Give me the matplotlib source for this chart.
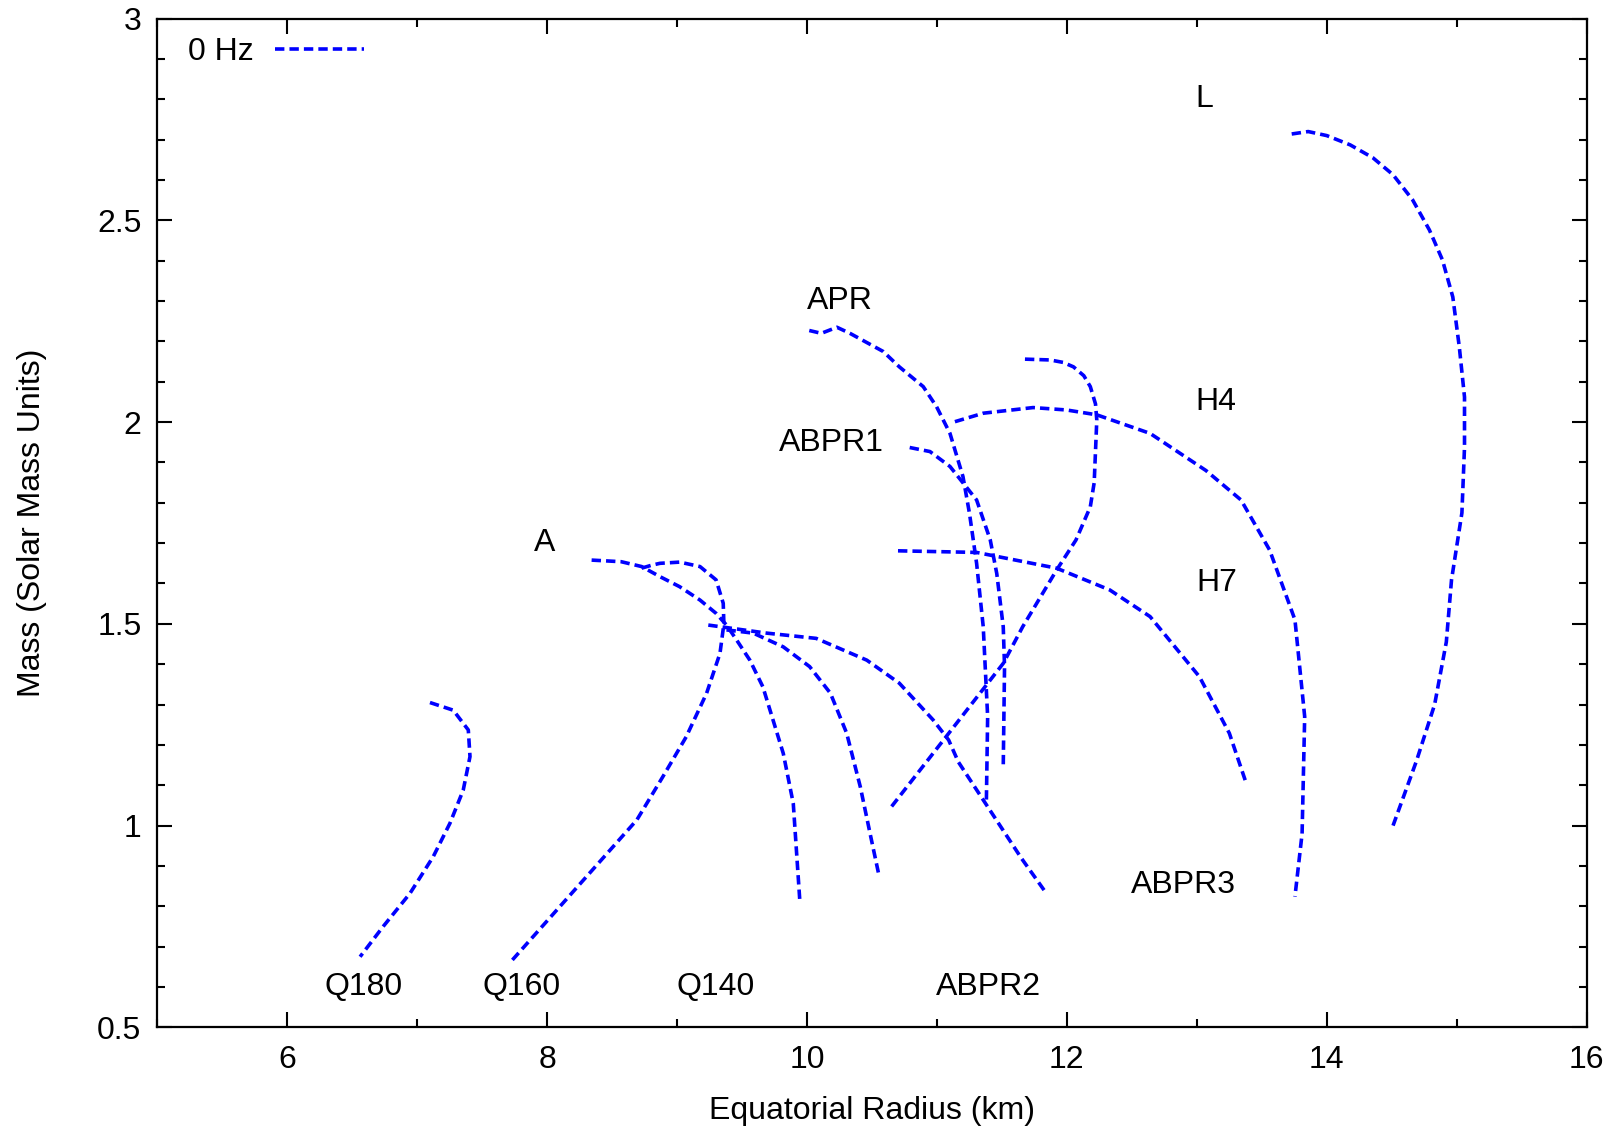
import matplotlib
matplotlib.use("Agg")
import matplotlib.pyplot as plt
from matplotlib.ticker import MultipleLocator, FormatStrFormatter

plt.rcParams['font.family'] = ['Liberation Sans', 'DejaVu Sans']

# ---- data: (equatorial radius km, mass) for each EOS, 0 Hz ----
L_r = [13.73, 13.857, 14.0, 14.18, 14.355, 14.51, 14.66, 14.79, 14.89, 14.97, 15.02, 15.06, 15.06, 15.04, 14.96, 14.92, 14.83, 14.69, 14.51]
L_m = [2.714, 2.720, 2.710, 2.687, 2.655, 2.613, 2.551, 2.476, 2.402, 2.31, 2.186, 2.062, 1.938, 1.775, 1.609, 1.455, 1.30, 1.16, 1.0]

H4_r = [11.138, 11.356, 11.74, 11.998, 12.23, 12.64, 13.07, 13.34, 13.56, 13.755, 13.83, 13.81, 13.755]
H4_m = [2.001, 2.022, 2.036, 2.03, 2.018, 1.972, 1.88, 1.807, 1.683, 1.51, 1.27, 0.98, 0.824]

H7_r = [10.70, 11.305, 11.92, 12.33, 12.64, 13.02, 13.25, 13.38]
H7_m = [1.681, 1.677, 1.638, 1.584, 1.518, 1.369, 1.229, 1.105]

APR_r = [10.017, 10.11, 10.23, 10.33, 10.586, 10.71, 10.894, 10.997, 11.1, 11.2, 11.25, 11.305, 11.356, 11.39, 11.38]
APR_m = [2.227, 2.22, 2.235, 2.22, 2.175, 2.137, 2.088, 2.038, 1.972, 1.865, 1.774, 1.65, 1.493, 1.27, 1.055]

ABPR1_r = [10.79, 10.946, 11.1, 11.305, 11.41, 11.46, 11.51, 11.52, 11.51]
ABPR1_m = [1.937, 1.927, 1.89, 1.807, 1.708, 1.625, 1.493, 1.394, 1.146]

ABPR2_r = [11.677, 11.87, 11.97, 12.05, 12.13, 12.18, 12.22, 12.23, 12.21, 12.18, 12.07, 11.92, 11.66, 11.51, 11.05, 10.65]
ABPR2_m = [2.156, 2.154, 2.148, 2.137, 2.115, 2.088, 2.045, 2.005, 1.85, 1.79, 1.708, 1.633, 1.493, 1.402, 1.212, 1.047]

ABPR3_r = [9.24, 9.69, 10.07, 10.46, 10.71, 10.97, 11.09, 11.164, 11.65, 11.84]
ABPR3_m = [1.497, 1.477, 1.464, 1.41, 1.353, 1.262, 1.212, 1.158, 0.919, 0.833]

A_r = [8.342, 8.57, 8.727, 8.868, 9.02, 9.176, 9.30, 9.38, 9.458, 9.56, 9.66, 9.817, 9.894, 9.945]
A_m = [1.658, 1.654, 1.642, 1.617, 1.592, 1.559, 1.526, 1.497, 1.46, 1.41, 1.344, 1.179, 1.055, 0.811]

Q140_r = [9.38, 9.586, 9.817, 10.02, 10.18, 10.305, 10.41, 10.49, 10.55]
Q140_m = [1.485, 1.477, 1.443, 1.394, 1.328, 1.229, 1.096, 0.973, 0.882]

Q160_r = [8.727, 8.80, 8.868, 9.02, 9.176, 9.30, 9.355, 9.36, 9.33, 9.227, 9.07, 8.89, 8.69, 8.406, 7.71]
Q160_m = [1.638, 1.645, 1.65, 1.653, 1.642, 1.609, 1.551, 1.50, 1.427, 1.328, 1.22, 1.121, 1.014, 0.911, 0.659]

Q180_r = [7.098, 7.277, 7.393, 7.406, 7.354, 7.252, 7.123, 6.944, 6.738, 6.56]
Q180_m = [1.305, 1.286, 1.237, 1.171, 1.088, 1.006, 0.923, 0.832, 0.75, 0.675]

curves = [(L_r, L_m), (H4_r, H4_m), (H7_r, H7_m), (APR_r, APR_m), (ABPR1_r, ABPR1_m),
          (ABPR2_r, ABPR2_m), (ABPR3_r, ABPR3_m), (A_r, A_m), (Q140_r, Q140_m),
          (Q160_r, Q160_m), (Q180_r, Q180_m)]

label_names = ["L", "APR", "H4", "ABPR1", "A", "H7", "ABPR3", "Q180", "Q160", "Q140", "ABPR2"]
label_x = [13.06, 10.25, 13.15, 10.19, 7.98, 13.15, 12.90, 6.59, 7.80, 9.30, 11.40]
label_y = [2.80, 2.30, 2.05, 1.948, 1.70, 1.60, 0.852, 0.60, 0.60, 0.60, 0.60]

FS = 23

# ---- figure ----
fig = plt.figure(figsize=(16.24, 11.26), dpi=100)
ax = fig.add_axes([0.0969, 0.0876, 0.977 - 0.0969, 0.9835 - 0.0876])

for i, (r, m) in enumerate(curves):
    ax.plot(r, m, color='#0000ff', lw=2.6, dashes=(2.6, 1.4),
            label='0 Hz' if i == 0 else None)

for name, x, y in zip(label_names, label_x, label_y):
    ax.text(x, y, name, fontsize=FS, ha='center', va='center', color='black')

ax.set_xlim(5, 16)
ax.set_ylim(0.5, 3)
ax.set_xticks([6, 8, 10, 12, 14, 16])
ax.xaxis.set_minor_locator(MultipleLocator(1))
ax.yaxis.set_major_locator(MultipleLocator(0.5))
ax.yaxis.set_minor_locator(MultipleLocator(0.1))
ax.yaxis.set_major_formatter(FormatStrFormatter('%g'))
ax.tick_params(which='both', direction='in', top=True, right=True, labelsize=FS, width=1.5)
ax.tick_params(which='major', length=10.5)
ax.tick_params(which='minor', length=5.5)
ax.tick_params(axis='x', which='major', pad=13)
ax.tick_params(axis='y', which='major', pad=11.5)
for s in ax.spines.values():
    s.set_linewidth(1.6)

ax.set_xlabel('Equatorial Radius (km)', fontsize=FS, labelpad=15)
ax.set_ylabel('Mass (Solar Mass Units)', fontsize=FS, labelpad=36)

leg = ax.legend(loc='upper left', bbox_to_anchor=(0.006, 1.004), frameon=False,
                fontsize=FS, markerfirst=False, handlelength=2.8,
                borderaxespad=0.3, handletextpad=0.65)

fig.savefig('out.png', dpi=100)
